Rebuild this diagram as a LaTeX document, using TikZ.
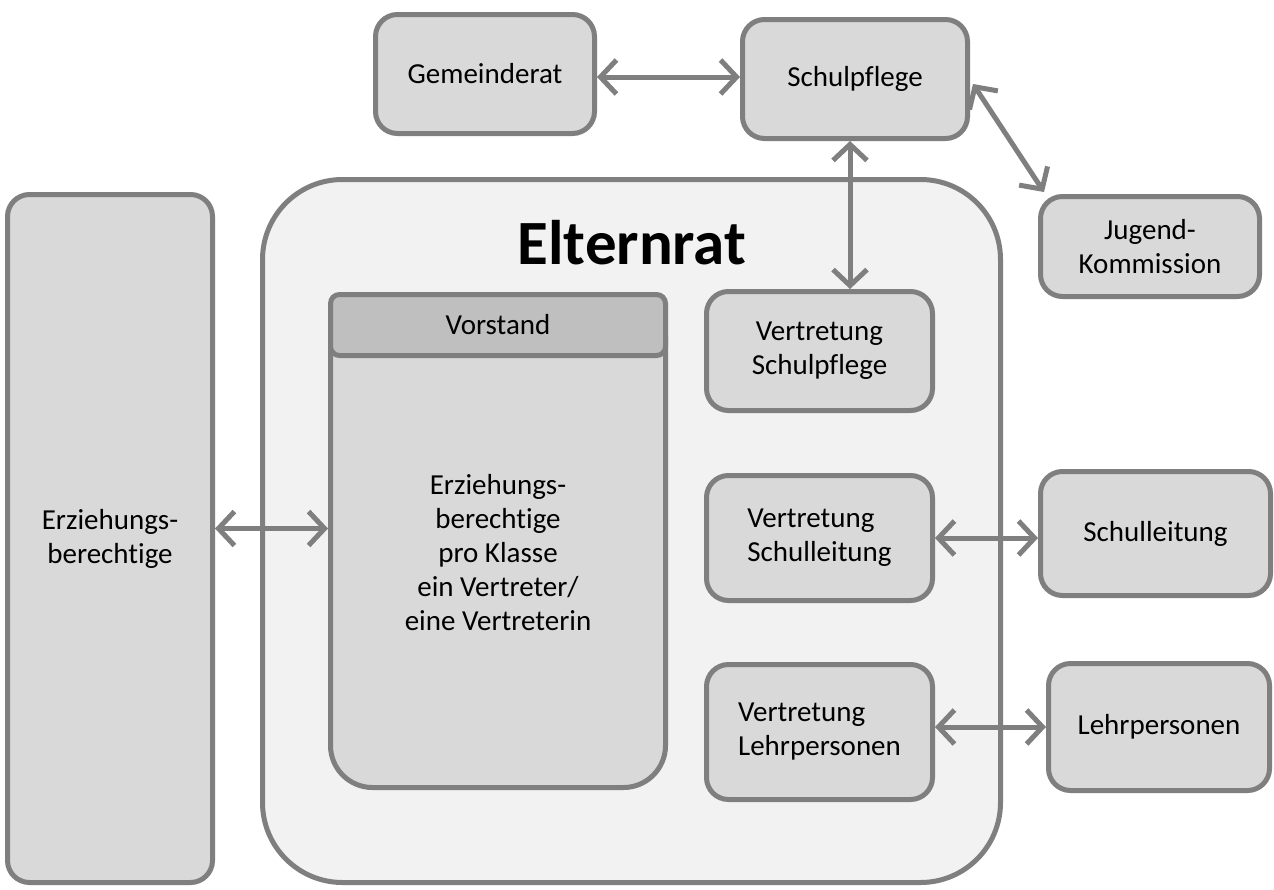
\documentclass[tikz,border=0pt]{standalone}
\usepackage{fontspec}
\setmainfont[Ligatures=NoCommon]{Carlito}
\usetikzlibrary{arrows.meta, calc}
\definecolor{linegray}{HTML}{7F7F7F}
\definecolor{boxgray}{HTML}{D9D9D9}
\definecolor{headgray}{HTML}{BFBFBF}
\definecolor{ratgray}{HTML}{F2F2F2}
\begin{document}
\begin{tikzpicture}[x=1pt, y=-1pt, font=\fontsize{29}{34}\selectfont]
		\tikzstyle{box} = [draw=linegray, fill=boxgray, line width=5pt, rounded corners=22pt, inner sep=0, align=center]
		\tikzstyle{bigbox} = [draw=linegray, fill=ratgray, line width=5pt, rounded corners=80pt, inner sep=0]
		\tikzstyle{arr} = [{Straight Barb[length=16pt,width=34pt]}-{Straight Barb[length=16pt,width=34pt]}, draw=linegray, line width=5pt]
		\useasboundingbox [fill=white] (0,0) rectangle (1274,889);
		\node [bigbox, minimum width=738pt, minimum height=703pt] (elt) at (631.5,531) {};
		\node [font=\fontsize{63}{68}\selectfont\bfseries] (title) at (632,243) {Elternrat};
		\node [box, minimum width=219pt, minimum height=119pt] (gem) at (485,74) {Gemeinderat};
		\node [box, minimum width=225pt, minimum height=119pt] (schul) at (855,79) {Schulpflege};
		\node [box, minimum width=219pt, minimum height=100pt] (jug) at (1150,246.5) {Jugend-\\Kommission};
		\node [box, minimum width=205pt, minimum height=688pt] (erz) at (110,538.5) {Erziehungs-\\berechtige};
		% Vorstand
		\node [box, rounded corners=42pt, minimum width=335pt, minimum height=493pt] (vbody) at (498,541) {};
		\node [box, fill=headgray, rounded corners=9pt, minimum width=335pt, minimum height=61pt] (vhead) at (498,325) {Vorstand};
		\node [align=center] (vtext) at (498,553) {Erziehungs-\\berechtige\\pro Klasse\\ein Vertreter/\\eine Vertreterin};
		% Vertretungen
		\node [box, minimum width=226pt, minimum height=119pt] (vsp) at (819.5,351) {Vertretung\\Schulpflege};
		\node [box, align=left, minimum width=226pt, minimum height=125pt] (vsl) at (819.5,538) {Vertretung\\Schulleitung};
		\node [box, align=left, minimum width=226pt, minimum height=135pt] (vlp) at (819.5,732) {Vertretung\\Lehrpersonen};
		\node [box, minimum width=230pt, minimum height=124pt] (sl) at (1155.5,533.5) {Schulleitung};
		\node [box, minimum width=221pt, minimum height=127pt] (lp) at (1159,727) {Lehrpersonen};
		% Verbindungen
		\draw [arr] ([yshift=-3pt]gem.east) -- ([yshift=-3pt]gem.east -| schul.west);
		\draw [arr] ([xshift=-5pt]schul.south) -- ([xshift=-5pt]schul.south |- vsp.north);
		\draw [arr] ([shift={(3pt,-5pt)}]schul.east) -- ([shift={(6pt,2pt)}]jug.north west);
		\draw [arr] ([yshift=10pt]erz.east) -- ([yshift=10pt]erz.east -| vbody.west);
		\draw [arr] (vsl.east) -- (vsl.east -| sl.west);
		\draw [arr] (vlp.east |- lp.west) -- (lp.west);
\end{tikzpicture}
\end{document}
